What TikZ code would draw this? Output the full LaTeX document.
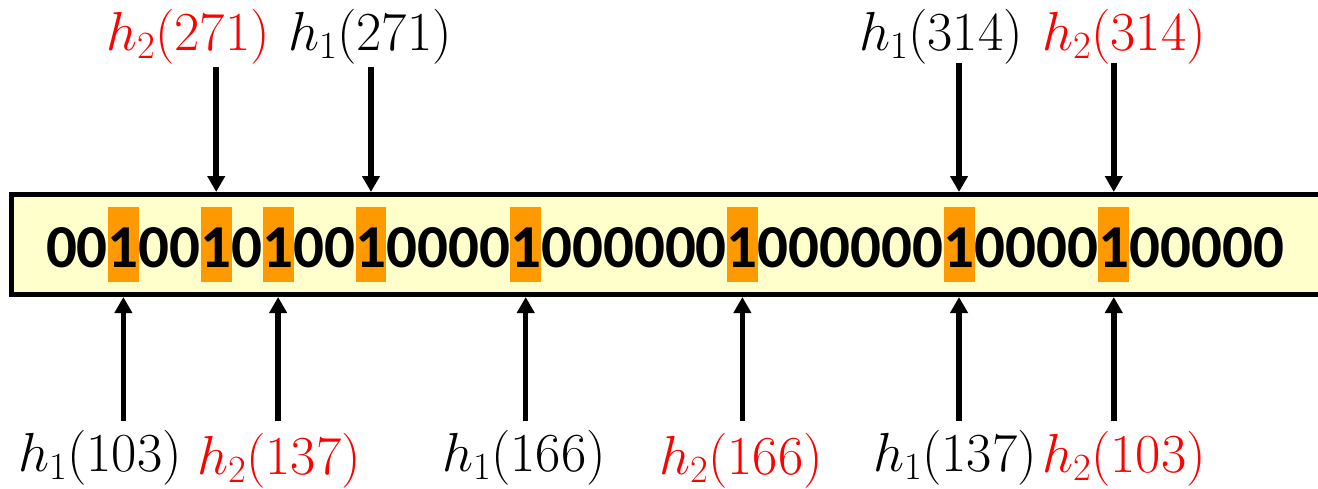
\RequirePackage{fix-cm}
\documentclass[tikz,border=0pt]{standalone}
\usepackage{fontspec}
\newfontfamily\digfont{Carlito}
\usetikzlibrary{arrows.meta}
\definecolor{hlorange}{HTML}{FF9900}
\definecolor{boxyellow}{HTML}{FFFFCC}
\definecolor{labred}{HTML}{FF0000}
\begin{document}
\begin{tikzpicture}[x=1pt,y=-1pt,
  bitbox/.style={inner sep=0pt, minimum width=30.95pt, text height=60pt, text depth=15pt, anchor=base,
    font=\digfont\bfseries\fontsize{61}{61}\selectfont},
  lab/.style={inner sep=0pt, anchor=base, font=\fontsize{55}{55}\selectfont},
  redlab/.style={lab, text=labred},
  arr/.style={line width=5.5pt, -{Triangle[width=17pt,length=16pt]}}]
\useasboundingbox (0,0) rectangle (1318,488);

% the bit array
\node[draw, line width=5pt, fill=boxyellow, minimum width=1320pt, minimum height=100pt, inner sep=0pt] (box) at (671.5,244.5) {};
\foreach \b [count=\i] in {0,0,1,0,0,1,0,1,0,0,1,0,0,0,0,1,0,0,0,0,0,0,1,0,0,0,0,0,0,1,0,0,0,0,1,0,0,0,0,0}{
  \ifnum\b=1 \def\fc{hlorange}\else\def\fc{none}\fi
  \node[bitbox, fill=\fc] (d\i) at ({46+(\i-0.5)*30.95},267) {\b};
}

% labels above
\node[redlab] (t1) at (188,50) {$h_2(271)$};
\node[lab]    (t2) at (370,50) {$h_1(271)$};
\node[lab]    (t3) at (941,50) {$h_1(314)$};
\node[redlab] (t4) at (1124,50) {$h_2(314)$};

% labels below
\node[lab]    (b1) at (100,471) {$h_1(103)$};
\node[redlab] (b2) at (279,474) {$h_2(137)$};
\node[lab]    (b3) at (524,471) {$h_1(166)$};
\node[redlab] (b4) at (741,474) {$h_2(166)$};
\node[lab]    (b5) at (955,471) {$h_1(137)$};
\node[redlab] (b6) at (1124,472) {$h_2(103)$};

\coordinate (topA) at (0,67);
\coordinate (topB) at (0,63);
\coordinate (botA) at (0,421);

% arrows from above
\draw[arr] (d6 |- topA) -- (d6 |- box.north);
\draw[arr] (d11 |- topA) -- (d11 |- box.north);
\draw[arr] (d30 |- topB) -- (d30 |- box.north);
\draw[arr] (d35 |- topB) -- (d35 |- box.north);

% arrows from below
\draw[arr] (d3 |- botA) -- (d3 |- box.south);
\draw[arr] (d8 |- botA) -- (d8 |- box.south);
\draw[arr] (d16 |- botA) -- (d16 |- box.south);
\draw[arr] (d23 |- botA) -- (d23 |- box.south);
\draw[arr] (d30 |- botA) -- (d30 |- box.south);
\draw[arr] (d35 |- botA) -- (d35 |- box.south);
\end{tikzpicture}
\end{document}
